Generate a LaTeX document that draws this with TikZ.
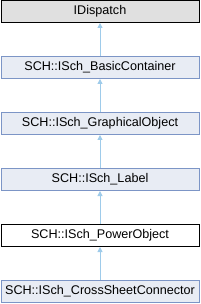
\documentclass[tikz,border=0pt]{standalone}
\usepackage{fontspec}
\setmainfont{Liberation Sans}
\usepackage{xcolor}
\usepackage{tikz}
\usetikzlibrary{arrows.meta,positioning}
\definecolor{classfill}{HTML}{E8ECF4}
\definecolor{classedge}{HTML}{7C95C6}
\definecolor{inheritblue}{HTML}{9ECBEA}

\tikzset{
  classbox/.style={draw=classedge,fill=classfill,line width=1pt,
        minimum width=198pt,minimum height=22pt,inner sep=0pt,
        font=\fontsize{12.6pt}{14pt}\selectfont},
  extbox/.style={classbox,draw=black,fill=black!12},
  curbox/.style={classbox,draw=black,fill=white},
  inherit/.style={inheritblue,line width=1pt,-{Triangle[length=5pt,width=5pt]}}
}

\begin{document}
\begin{tikzpicture}[x=1pt,y=1pt]
  \useasboundingbox (0,0) rectangle (200,-304);
  \node[extbox]   (dispatch)  at (100,-11.5)  {IDispatch};
  \node[classbox] (basic)     at (100,-67.5)  {SCH::ISch\_BasicContainer};
  \node[classbox] (graphical) at (100,-123.5) {SCH::ISch\_GraphicalObject};
  \node[classbox] (label)     at (100,-179.5) {SCH::ISch\_Label};
  \node[curbox]   (power)     at (100,-235.5) {SCH::ISch\_PowerObject};
  \node[classbox] (cross)     at (100,-291.5) {SCH::ISch\_CrossSheetConnector};

  \draw[inherit] (basic)     -- (dispatch);
  \draw[inherit] (graphical) -- (basic);
  \draw[inherit] (label)     -- (graphical);
  \draw[inherit] (power)     -- (label);
  \draw[inherit] (cross)     -- (power);
\end{tikzpicture}
\end{document}
